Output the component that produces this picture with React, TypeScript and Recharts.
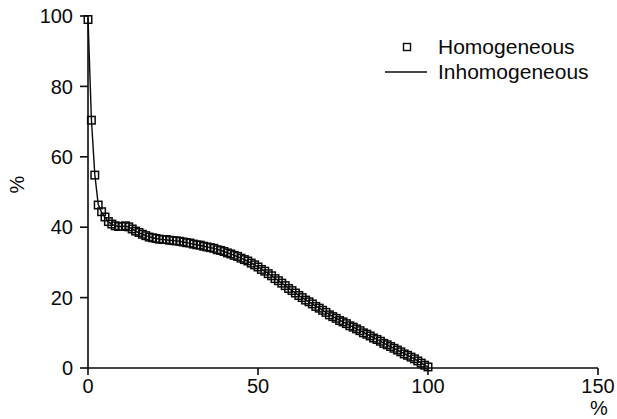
import { ComposedChart, Line, Scatter, XAxis, YAxis } from 'recharts'

// percentage of length (x) vs. remaining percentage (y)
const xValues = [
  0, 1, 2, 3, 4, 5, 6, 7, 8, 9,
  10, 11, 12, 13, 14, 15, 16, 17, 18, 19,
  20, 21, 22, 23, 24, 25, 26, 27, 28, 29,
  30, 31, 32, 33, 34, 35, 36, 37, 38, 39,
  40, 41, 42, 43, 44, 45, 46, 47, 48, 49,
  50, 51, 52, 53, 54, 55, 56, 57, 58, 59,
  60, 61, 62, 63, 64, 65, 66, 67, 68, 69,
  70, 71, 72, 73, 74, 75, 76, 77, 78, 79,
  80, 81, 82, 83, 84, 85, 86, 87, 88, 89,
  90, 91, 92, 93, 94, 95, 96, 97, 98, 99,
  100,
]

const homogeneous = [
  99, 70.4, 54.8, 46.3, 44.4, 42.9, 41.6, 40.9, 40.4, 40.2,
  40.2, 40.4, 40.1, 39.5, 38.9, 38.5, 38.0, 37.6, 37.2, 37.0,
  36.8, 36.6, 36.5, 36.5, 36.3, 36.2, 36.1, 36.0, 35.8, 35.6,
  35.5, 35.2, 35.0, 34.9, 34.6, 34.4, 34.2, 34.0, 33.6, 33.4,
  33.1, 32.7, 32.4, 32.0, 31.7, 31.2, 30.8, 30.4, 29.8, 29.3,
  28.7, 28.0, 27.5, 26.8, 26.2, 25.4, 24.8, 24.1, 23.4, 22.6,
  22.0, 21.3, 20.6, 20.0, 19.3, 18.8, 18.2, 17.5, 17.0, 16.4,
  15.8, 15.1, 14.6, 14.1, 13.5, 13.1, 12.6, 12.0, 11.6, 11.1,
  10.6, 10.0, 9.6, 9.1, 8.5, 8.1, 7.6, 7.0, 6.6, 6.1,
  5.6, 5.1, 4.6, 4.0, 3.6, 3.1, 2.6, 2.0, 1.4, 0.8,
  0.3,
]

const inhomogeneous = [
  99.5, 70.6, 55.0, 46.5, 44.2, 42.8, 41.5, 40.8, 40.4, 40.2,
  40.2, 40.3, 40.0, 39.5, 38.9, 38.4, 38.0, 37.6, 37.3, 37.0,
  36.8, 36.6, 36.5, 36.4, 36.3, 36.2, 36.1, 36.0, 35.8, 35.6,
  35.4, 35.2, 35.0, 34.8, 34.6, 34.4, 34.2, 34.0, 33.7, 33.4,
  33.1, 32.7, 32.4, 32.0, 31.6, 31.2, 30.8, 30.3, 29.8, 29.3,
  28.7, 28.1, 27.5, 26.9, 26.2, 25.5, 24.8, 24.1, 23.4, 22.7,
  22.0, 21.3, 20.6, 20.0, 19.4, 18.8, 18.2, 17.6, 17.0, 16.4,
  15.8, 15.2, 14.6, 14.1, 13.6, 13.1, 12.6, 12.1, 11.6, 11.1,
  10.6, 10.1, 9.6, 9.1, 8.6, 8.1, 7.6, 7.1, 6.6, 6.1,
  5.6, 5.1, 4.6, 4.1, 3.6, 3.1, 2.6, 2.0, 1.4, 0.8,
  0.3,
]

const xTicks = [0, 50, 100, 150]
const yTicks = [0, 20, 40, 60, 80, 100]

const homData = xValues.map((x, i) => ({ x, y: homogeneous[i] }))
const inhomData = xValues.map((x, i) => ({ x, y: inhomogeneous[i] }))

const FONT = '"Liberation Sans", Arial, Helvetica, sans-serif'
const INK = '#0a0a0a'
const tickStyle = { fill: INK, fontSize: 20, fontFamily: FONT }

const SquareDot = (props: any) => {
  const { cx, cy } = props
  if (cx == null || cy == null) return null
  return <rect x={cx - 3.75} y={cy - 3.75} width={7.5} height={7.5} fill="none" stroke={INK} strokeWidth={1.5} />
}

export default function App() {
  return (
    <div style={{ position: 'absolute', left: 0, top: 0, width: 617, height: 419, background: '#fff', fontFamily: FONT }}>
      <ComposedChart width={617} height={419} margin={{ top: 16, right: 19, bottom: 0, left: 0 }}>
        <XAxis
          type="number"
          dataKey="x"
          domain={[0, 150]}
          ticks={xTicks}
          height={51}
          tickSize={7}
          tickMargin={4}
          tick={tickStyle}
          axisLine={{ stroke: INK, strokeWidth: 1.6 }}
          tickLine={{ stroke: INK, strokeWidth: 1.6 }}
        />
        <YAxis
          type="number"
          domain={[0, 100]}
          ticks={yTicks}
          width={88}
          tickSize={8}
          tickMargin={7}
          tick={tickStyle}
          axisLine={{ stroke: INK, strokeWidth: 1.6 }}
          tickLine={{ stroke: INK, strokeWidth: 1.6 }}
        />
        <Line
          data={inhomData}
          dataKey="y"
          type="linear"
          stroke={INK}
          strokeWidth={1.4}
          dot={false}
          isAnimationActive={false}
        />
        <Scatter data={homData} dataKey="y" shape={SquareDot} isAnimationActive={false} />
      </ComposedChart>

      {/* axis labels */}
      <div style={{ position: 'absolute', left: 590, top: 397, fontSize: 20, color: INK }}>%</div>
      <div
        style={{
          position: 'absolute',
          left: 9,
          top: 173,
          fontSize: 20,
          color: INK,
          transform: 'rotate(-90deg)',
        }}
      >
        %
      </div>

      {/* legend */}
      <div style={{ position: 'absolute', left: 380, top: 34, fontSize: 21, color: INK, lineHeight: '25px' }}>
        <div style={{ display: 'flex', alignItems: 'center' }}>
          <svg width={58} height={25}>
            <rect x={23.5} y={9.5} width={7} height={7} fill="none" stroke={INK} strokeWidth={1.4} />
          </svg>
          <span>Homogeneous</span>
        </div>
        <div style={{ display: 'flex', alignItems: 'center' }}>
          <svg width={58} height={25}>
            <line x1={5} x2={47} y1={13} y2={13} stroke={INK} strokeWidth={1.3} />
          </svg>
          <span>Inhomogeneous</span>
        </div>
      </div>
    </div>
  )
}
